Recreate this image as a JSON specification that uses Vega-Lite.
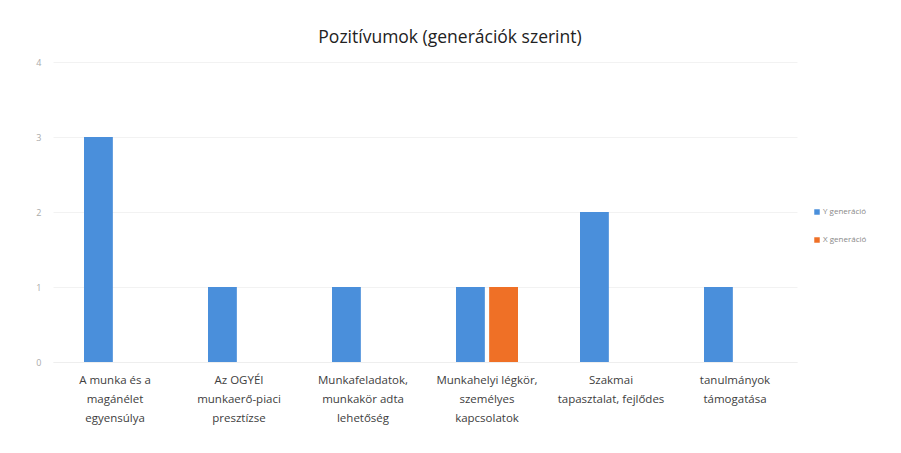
{
  "$schema": "https://vega.github.io/schema/vega-lite/v6.json",
  "width": 744,
  "height": 300,
  "autosize": {"type": "none"},
  "padding": {"left": 53, "top": 62, "right": 104, "bottom": 91},
  "background": "white",
  "title": {"text": "Pozitívumok (generációk szerint)", "fontSize": 17.5, "font": "Open Sans", "fontWeight": "normal", "color": "#222222", "anchor": "middle", "dx": 25, "offset": 12},
  "data": {"values": [
    {"kategoria": "A munka és a\nmagánélet\negyensúlya", "generacio": "Y generáció", "ertek": 3},
    {"kategoria": "A munka és a\nmagánélet\negyensúlya", "generacio": "X generáció", "ertek": 0},
    {"kategoria": "Az OGYÉI\nmunkaerő-piaci\npresztízse", "generacio": "Y generáció", "ertek": 1},
    {"kategoria": "Az OGYÉI\nmunkaerő-piaci\npresztízse", "generacio": "X generáció", "ertek": 0},
    {"kategoria": "Munkafeladatok,\nmunkakör adta\nlehetőség", "generacio": "Y generáció", "ertek": 1},
    {"kategoria": "Munkafeladatok,\nmunkakör adta\nlehetőség", "generacio": "X generáció", "ertek": 0},
    {"kategoria": "Munkahelyi légkör,\nszemélyes\nkapcsolatok", "generacio": "Y generáció", "ertek": 1},
    {"kategoria": "Munkahelyi légkör,\nszemélyes\nkapcsolatok", "generacio": "X generáció", "ertek": 1},
    {"kategoria": "Szakmai\ntapasztalat, fejlődes", "generacio": "Y generáció", "ertek": 2},
    {"kategoria": "Szakmai\ntapasztalat, fejlődes", "generacio": "X generáció", "ertek": 0},
    {"kategoria": "tanulmányok\ntámogatása", "generacio": "Y generáció", "ertek": 1},
    {"kategoria": "tanulmányok\ntámogatása", "generacio": "X generáció", "ertek": 0}
  ]},
  "mark": {"type": "bar"},
  "encoding": {
    "x": {
      "field": "kategoria", "type": "nominal", "sort": null,
      "scale": {"paddingInner": 0.5, "paddingOuter": 0.25},
      "axis": {"title": null, "labelAngle": 0, "labelExpr": "split(datum.value, '\\n')", "labelFont": "Open Sans", "labelFontSize": 11.5, "labelColor": "#404040", "labelLineHeight": 19, "labelPadding": 12, "ticks": false, "domain": true, "domainColor": "#eeeeee", "labelLimit": 200}
    },
    "xOffset": {"field": "generacio", "type": "nominal", "sort": ["Y generáció", "X generáció"], "scale": {"paddingInner": 0.13}},
    "y": {
      "field": "ertek", "type": "quantitative",
      "scale": {"domain": [0, 4]},
      "axis": {"title": null, "values": [0, 1, 2, 3, 4], "format": "d", "labelColor": "#aaaaaa", "labelFontSize": 9, "labelFont": "Open Sans", "labelPadding": 12, "ticks": false, "domain": false, "gridColor": "#f2f2f2"}
    },
    "color": {
      "field": "generacio", "type": "nominal", "sort": ["Y generáció", "X generáció"],
      "scale": {"range": ["#4a8fdb", "#ef7026"]},
      "legend": {"title": null, "orient": "none", "legendX": 760, "legendY": 146, "symbolType": "square", "symbolSize": 30, "labelFontSize": 8, "labelColor": "#888888", "labelFont": "Open Sans", "rowPadding": 20, "labelOffset": 2}
    }
  },
  "config": {"view": {"stroke": null}}
}
